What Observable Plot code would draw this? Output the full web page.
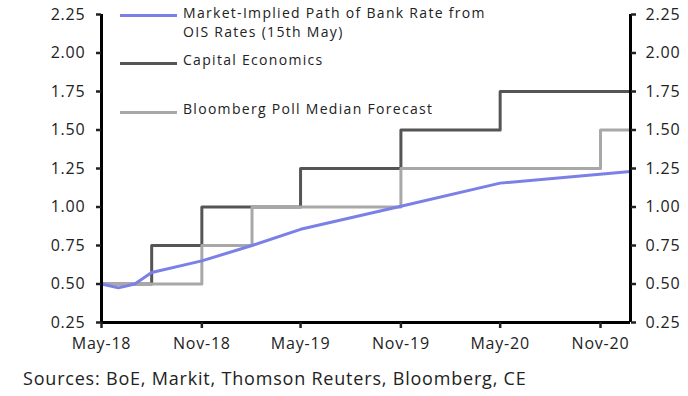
<!DOCTYPE html>
<html>
<head>
<meta charset="utf-8">
<script src="https://cdn.jsdelivr.net/npm/d3@7"></script>
<script src="https://cdn.jsdelivr.net/npm/@observablehq/plot@0.6"></script>
<style>
  html, body { margin: 0; padding: 0; background: #fff; }
  body { width: 688px; height: 396px; overflow: hidden; font-family: "Open Sans", Lato, sans-serif; letter-spacing: 0.8px; }
  #wrap { position: relative; width: 688px; }
  #legend { position: absolute; left: 120px; top: 0; font-size: 14px; letter-spacing: 1.3px; color: #222; }
  .sw { position: absolute; left: 0; width: 57px; height: 3px; }
  .lab { position: absolute; left: 63px; white-space: nowrap; line-height: 16px; }
  #caption { font-size: 18px; color: #222; margin: 4px 0 0 23px; padding-bottom: 6px; border-bottom: 2px solid #d0d0d0; white-space: nowrap; }
</style>
</head>
<body>
<div id="wrap">
  <div id="chart"></div>
  <div id="legend"></div>
</div>
<div id="caption">Sources: BoE, Markit, Thomson Reuters, Bloomberg, CE</div>
<script>
// ---- data ----
const xStart = "2018-05-01";
const xEnd = "2020-12-26";
const xTickDates = ["2018-05-01","2018-11-01","2019-05-01","2019-11-01","2020-05-01","2020-11-01"];
const xTickLabels = ["May-18","Nov-18","May-19","Nov-19","May-20","Nov-20"];
const yTicks = [0.25,0.5,0.75,1.0,1.25,1.5,1.75,2.0,2.25];

const oisDates = ["2018-05-01","2018-06-01","2018-07-01","2018-08-01","2018-11-01","2019-02-01","2019-05-01","2019-11-01","2020-05-01","2020-12-26"];
const oisValues = [0.50,0.475,0.50,0.575,0.65,0.75,0.855,1.005,1.155,1.23];

const ceDates = ["2018-05-01","2018-08-01","2018-11-01","2019-05-01","2019-11-01","2020-05-01","2020-12-26"];
const ceValues = [0.50,0.75,1.00,1.25,1.50,1.75,1.75];

const bbDates = ["2018-05-01","2018-11-01","2019-02-01","2019-11-01","2020-11-01","2020-12-26"];
const bbValues = [0.50,0.75,1.00,1.25,1.50,1.50];

const seriesNames = [["Market-Implied Path of Bank Rate from","OIS Rates (15th May)"],["Capital Economics"],["Bloomberg Poll Median Forecast"]];
const seriesColors = ["#7b80e6","#555555","#a8a8a8"];

// ---- build ----
const P = d3.utcParse("%Y-%m-%d");
const mk = (ds, vs) => ds.map((d, i) => ({date: P(d), value: vs[i]}));
const ois = mk(oisDates, oisValues);
const ce = mk(ceDates, ceValues);
const bb = mk(bbDates, bbValues);
const xDomain = [P(xStart), P(xEnd)];
const xTicks = xTickDates.map(P);
const tickLabel = new Map(xTicks.map((d, i) => [+d, xTickLabels[i]]));

const chart = Plot.plot({
  width: 688,
  height: 362,
  marginLeft: 101,
  marginRight: 58,
  marginTop: 14,
  marginBottom: 40,
  style: {fontFamily: "'Open Sans', Lato, sans-serif", fontSize: "16px", color: "#222", background: "#fff", letterSpacing: "0.8px"},
  x: {type: "utc", domain: xDomain},
  y: {domain: [0.25, 2.25]},
  marks: [
    Plot.line(ce, {x: "date", y: "value", curve: "step-after", stroke: seriesColors[1], strokeWidth: 3}),
    Plot.line(bb, {x: "date", y: "value", curve: "step-after", stroke: seriesColors[2], strokeWidth: 3}),
    Plot.line(ois, {x: "date", y: "value", stroke: seriesColors[0], strokeWidth: 3}),
    Plot.ruleX(xDomain, {stroke: "#000", strokeWidth: 3}),
    Plot.ruleY([yTicks[0]], {stroke: "#000", strokeWidth: 3}),
    Plot.axisY({anchor: "left", ticks: yTicks, tickFormat: d => d.toFixed(2), tickSize: 5, tickPadding: 11, strokeWidth: 2.5, label: null, fill: "#222"}),
    Plot.axisY({anchor: "right", ticks: yTicks, tickFormat: d => d.toFixed(2), tickSize: 5, tickPadding: 10, strokeWidth: 2.5, label: null, fill: "#222"}),
    Plot.axisX({ticks: xTicks, tickFormat: d => tickLabel.get(+d), tickSize: 6, tickPadding: 9, strokeWidth: 2.5, label: null, fill: "#222"})
  ]
});
document.getElementById("chart").appendChild(chart);

// legend
const legend = document.getElementById("legend");
const swY = [15, 63, 112];
const txtY = [[5, 24], [52], [101]];
seriesNames.forEach((lines, i) => {
  const sw = document.createElement("div");
  sw.className = "sw";
  sw.style.background = seriesColors[i];
  sw.style.top = (swY[i] - 1.5) + "px";
  legend.appendChild(sw);
  lines.forEach((t, j) => {
    const lab = document.createElement("div");
    lab.className = "lab";
    lab.style.top = txtY[i][j] + "px";
    lab.textContent = t;
    legend.appendChild(lab);
  });
});
</script>
</body>
</html>
